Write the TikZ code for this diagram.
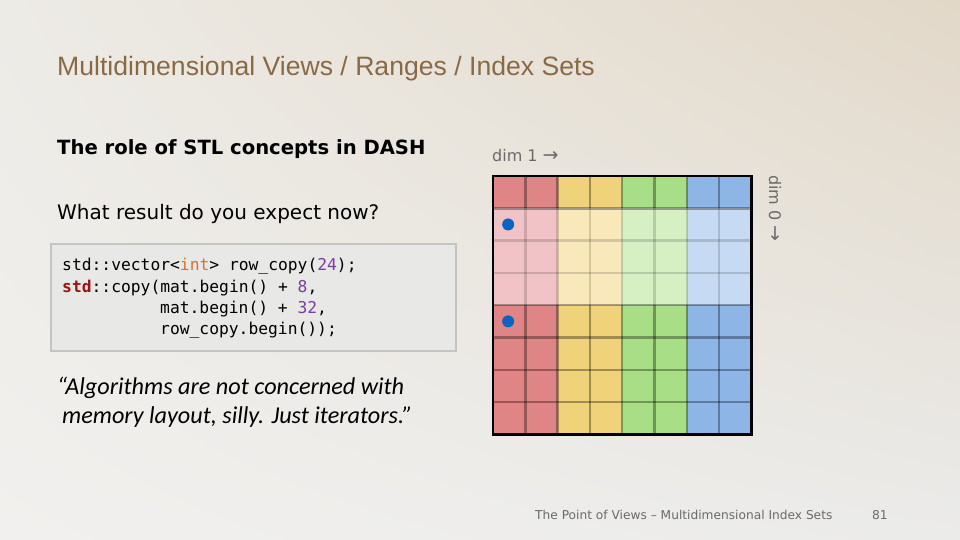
\documentclass[tikz,border=0pt]{standalone}
\usepackage{fontspec}
\usetikzlibrary{shadings}
\setmainfont{Liberation Sans}
\newfontfamily\titlefont{Liberation Sans}
\newfontfamily\verdfont{DejaVu Sans}
\newfontfamily\codefont{DejaVu Sans Mono}
\newfontfamily\calfont{Carlito}
\definecolor{bgA}{HTML}{EDEBE6}
\definecolor{bgB}{HTML}{E2D8C8}
\definecolor{bgC}{HTML}{F1F0EE}
\definecolor{bgD}{HTML}{EBEBEA}
\definecolor{titlebrown}{HTML}{8A6A45}
\definecolor{redD}{HTML}{E08585}
\definecolor{redL}{HTML}{F1C3C6}
\definecolor{yelD}{HTML}{F0D27A}
\definecolor{yelL}{HTML}{F8E8BA}
\definecolor{grnD}{HTML}{A8DE85}
\definecolor{grnL}{HTML}{D6F0C4}
\definecolor{bluD}{HTML}{8DB5E6}
\definecolor{bluL}{HTML}{C6DAF3}
\definecolor{dotblue}{HTML}{0A64C0}
\definecolor{codebg}{HTML}{E8E8E7}
\definecolor{codeborder}{HTML}{C4C4C2}
\definecolor{kwint}{HTML}{E07020}
\definecolor{numpurple}{HTML}{7A3E9D}
\definecolor{stdred}{HTML}{A01010}
\definecolor{dimgrey}{HTML}{6A6A6A}
\tikzset{
  txt/.style={inner sep=0pt, anchor=west},
  codeline/.style={txt, font=\codefont\fontsize{16.3}{20}\selectfont},
  darkline/.style={black, opacity=0.33, line width=2.4pt},
  lightline/.style={black, opacity=0.15, line width=2.4pt},
}
\begin{document}
\begin{tikzpicture}[x=1pt,y=-1pt]
\useasboundingbox (0,0) rectangle (960,540);
\shade[upper left=bgA, upper right=bgB, lower left=bgC, lower right=bgD] (0,0) rectangle (960,540);

% title
\node[txt, text=titlebrown, font=\titlefont\fontsize{26.6}{30}\selectfont] (title) at (57,69) {Multidimensional Views / Ranges / Index Sets};
\node[txt, font=\verdfont\bfseries\fontsize{19.6}{22}\selectfont] (heading) at (57,149) {The role of STL concepts in DASH};
\node[txt, font=\verdfont\fontsize{20}{24}\selectfont] (question) at (57,214) {What result do you expect now?};

% code box
\node[draw=codeborder, line width=1.5pt, fill=codebg, minimum width=405pt, minimum height=107pt, anchor=north west, inner sep=0pt] (codebox) at (50,243) {};
\node[codeline] (c1) at (62,266) {std::vector<\textcolor{kwint}{int}> row\_copy(\textcolor{numpurple}{24});};
\node[codeline] (c2) at (62,288) {\textcolor{stdred}{\bfseries std}::copy(mat.begin() + \textcolor{numpurple}{8},};
\node[codeline] (c3) at (160,309) {mat.begin() + \textcolor{numpurple}{32},};
\node[codeline] (c4) at (160,330) {row\_copy.begin());};

% quote
\node[txt, font=\calfont\itshape\fontsize{24.2}{28}\selectfont] (q1) at (57,388) {“Algorithms are not concerned with};
\node[txt, font=\calfont\itshape\fontsize{24.2}{28}\selectfont] (q2) at (62,417) {memory layout, silly. Just iterators.”};

% dim labels
\node[txt, text=dimgrey, font=\verdfont\fontsize{16}{18}\selectfont] (dim1) at (492,156) {dim 1 {\fontsize{19}{18}\selectfont →}};
\node[inner sep=0pt, anchor=west, rotate=-90, text=dimgrey, font=\verdfont\fontsize{16}{18}\selectfont] (dim0) at (775,175) {dim 0 {\fontsize{19}{18}\selectfont →}};

% grid
\def\gx{493}\def\gy{176}\def\cs{32.3}
\foreach \c/\dcol/\lcol in {0/redD/redL,1/redD/redL,2/yelD/yelL,3/yelD/yelL,4/grnD/grnL,5/grnD/grnL,6/bluD/bluL,7/bluD/bluL}{
  \foreach \r in {0,...,7}{
    \pgfmathtruncatemacro{\light}{(\r>0)&&(\r<4)}
    \ifnum\light=1
      \fill[\lcol] ({\gx+\c*\cs},{\gy+\r*\cs}) rectangle ++(\cs,\cs);
    \else
      \fill[\dcol] ({\gx+\c*\cs},{\gy+\r*\cs}) rectangle ++(\cs,\cs);
    \fi
  }
}
% vertical inner lines
\foreach \c in {1,...,7}{
  \draw[darkline] ({\gx+\c*\cs},{\gy}) -- ({\gx+\c*\cs},{\gy+\cs});
  \draw[lightline] ({\gx+\c*\cs},{\gy+\cs}) -- ({\gx+\c*\cs},{\gy+4*\cs});
  \draw[darkline] ({\gx+\c*\cs},{\gy+4*\cs}) -- ({\gx+\c*\cs},{\gy+8*\cs});
}
% horizontal inner lines
\foreach \r/\sty in {1/darkline,2/lightline,3/lightline,4/darkline,5/darkline,6/darkline,7/darkline}{
  \draw[\sty] ({\gx},{\gy+\r*\cs}) -- ({\gx+8*\cs},{\gy+\r*\cs});
}
\draw[black, line width=2.8pt] (\gx,\gy) rectangle ({\gx+8*\cs},{\gy+8*\cs});
\fill[dotblue] ({\gx+0.5*\cs-1},{\gy+1.5*\cs}) circle (6);
\fill[dotblue] ({\gx+0.5*\cs-1},{\gy+4.5*\cs}) circle (6);

% footer
\node[txt, text=dimgrey, font=\verdfont\fontsize{12.2}{14}\selectfont] (footer) at (535,515) {The Point of Views – Multidimensional Index Sets};
\node[txt, text=dimgrey, font=\verdfont\fontsize{12.2}{14}\selectfont] (page) at (872,515) {81};
\end{tikzpicture}
\end{document}
